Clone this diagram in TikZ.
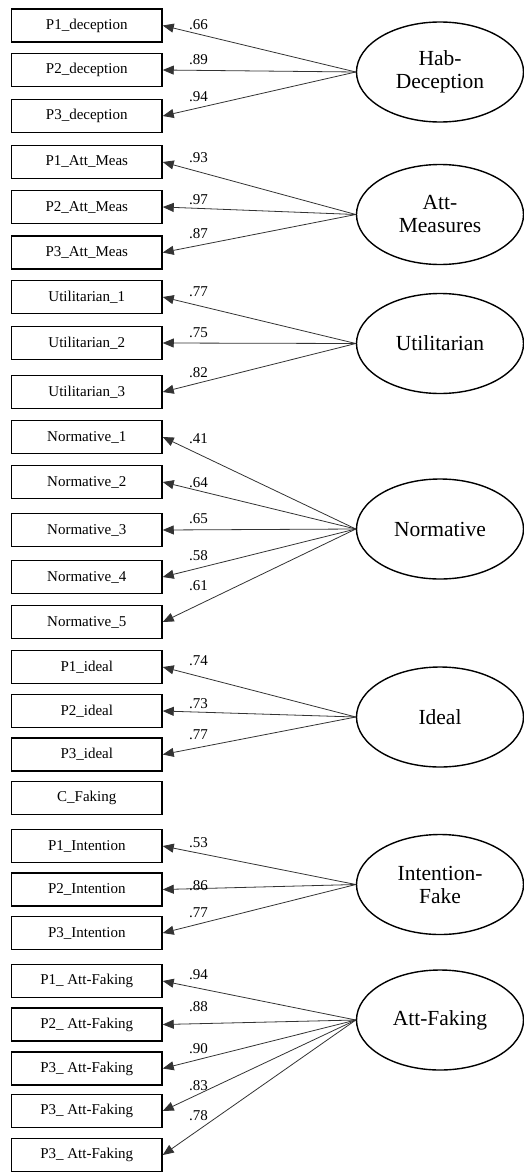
\documentclass[tikz,border=0pt]{standalone}
\usepackage{fontspec}
\setmainfont{Liberation Serif}
\usetikzlibrary{shapes.geometric,arrows.meta}

\tikzset{
  indicator/.style={draw, line width=1.5pt, rectangle, minimum width=150.5pt,
    minimum height=33pt, inner sep=0pt, font=\fontsize{15}{16}\selectfont},
  factor/.style={draw, line width=1.4pt, ellipse, minimum width=167pt,
    minimum height=100pt, inner sep=0pt, align=center,
    font=\fontsize{21.5}{23}\selectfont},
  loading/.style={-{Triangle[length=11pt,width=9pt]}, line width=0.8pt, black!80},
  weight/.style={anchor=base west, inner sep=0pt, font=\fontsize{15}{16}\selectfont},
}

\begin{document}
\begin{tikzpicture}[x=1pt,y=-1pt]
\useasboundingbox (0,0) rectangle (523,1172);

% observed indicators
\node[indicator] (b1)  at (86.75,25.5)  {P1\_deception};
\node[indicator] (b2)  at (86.75,70)    {P2\_deception};
\node[indicator] (b3)  at (86.75,116)   {P3\_deception};
\node[indicator] (b4)  at (86.75,162)   {P1\_Att\_Meas};
\node[indicator] (b5)  at (86.75,207)   {P2\_Att\_Meas};
\node[indicator] (b6)  at (86.75,252.5) {P3\_Att\_Meas};
\node[indicator] (b7)  at (86.75,297)   {Utilitarian\_1};
\node[indicator] (b8)  at (86.75,343)   {Utilitarian\_2};
\node[indicator] (b9)  at (86.75,392)   {Utilitarian\_3};
\node[indicator] (b10) at (86.75,437)   {Normative\_1};
\node[indicator] (b11) at (86.75,482)   {Normative\_2};
\node[indicator] (b12) at (86.75,530)   {Normative\_3};
\node[indicator] (b13) at (86.75,577)   {Normative\_4};
\node[indicator] (b14) at (86.75,622)   {Normative\_5};
\node[indicator] (b15) at (86.75,667)   {P1\_ideal};
\node[indicator] (b16) at (86.75,711)   {P2\_ideal};
\node[indicator] (b17) at (86.75,754.5) {P3\_ideal};
\node[indicator] (b18) at (86.75,798)   {C\_Faking};
\node[indicator] (b19) at (86.75,846)   {P1\_Intention};
\node[indicator] (b20) at (86.75,889.5) {P2\_Intention};
\node[indicator] (b21) at (86.75,933)   {P3\_Intention};
\node[indicator] (b22) at (86.75,981)   {P1\_ Att-Faking};
\node[indicator] (b23) at (86.75,1024.5){P2\_ Att-Faking};
\node[indicator] (b24) at (86.75,1068.5){P3\_ Att-Faking};
\node[indicator] (b25) at (86.75,1111)  {P3\_ Att-Faking};
\node[indicator] (b26) at (86.75,1155)  {P3\_ Att-Faking};

% latent factors
\node[factor] (hab)  at (440,72)     {Hab-\\Deception};
\node[factor] (att)  at (440,214.5)  {Att-\\Measures};
\node[factor] (uti)  at (440,343.5)  {Utilitarian};
\node[factor] (nor)  at (440,529)    {Normative};
\node[factor] (ide)  at (440,717)    {Ideal};
\node[factor] (int)  at (440,884.5)  {Intention-\\Fake};
\node[factor] (fak)  at (440,1020)   {Att-Faking};

% factor loadings
\foreach \f/\b in {hab/b1,hab/b2,hab/b3,
                   att/b4,att/b5,att/b6,
                   uti/b7,uti/b8,uti/b9,
                   nor/b10,nor/b11,nor/b12,nor/b13,nor/b14,
                   ide/b15,ide/b16,ide/b17,
                   int/b19,int/b20,int/b21,
                   fak/b22,fak/b23,fak/b24,fak/b25,fak/b26}
  \draw[loading] (\f.west) -- (\b.east);

% standardized loading values
\node[weight] (w1)  at (189,29.3)   {.66};
\node[weight] (w2)  at (189,65)     {.89};
\node[weight] (w3)  at (189,101.7)  {.94};
\node[weight] (w4)  at (189,162.7)  {.93};
\node[weight] (w5)  at (189,204.5)  {.97};
\node[weight] (w6)  at (189,238.3)  {.87};
\node[weight] (w7)  at (189,296.7)  {.77};
\node[weight] (w8)  at (189,337.3)  {.75};
\node[weight] (w9)  at (189,377.3)  {.82};
\node[weight] (w10) at (189,443.3)  {.41};
\node[weight] (w11) at (189,487.3)  {.64};
\node[weight] (w12) at (189,523.3)  {.65};
\node[weight] (w13) at (189,560)    {.58};
\node[weight] (w14) at (189,590.7)  {.61};
\node[weight] (w15) at (189,665.7)  {.74};
\node[weight] (w16) at (189,708.3)  {.73};
\node[weight] (w17) at (189,739.3)  {.77};
\node[weight] (w18) at (189,847)    {.53};
\node[weight] (w19) at (189,890)    {.86};
\node[weight] (w20) at (189,917.3)  {.77};
\node[weight] (w21) at (189,979.3)  {.94};
\node[weight] (w22) at (189,1011.7) {.88};
\node[weight] (w23) at (189,1053.3) {.90};
\node[weight] (w24) at (189,1090)   {.83};
\node[weight] (w25) at (189,1120.7) {.78};
\end{tikzpicture}
\end{document}
